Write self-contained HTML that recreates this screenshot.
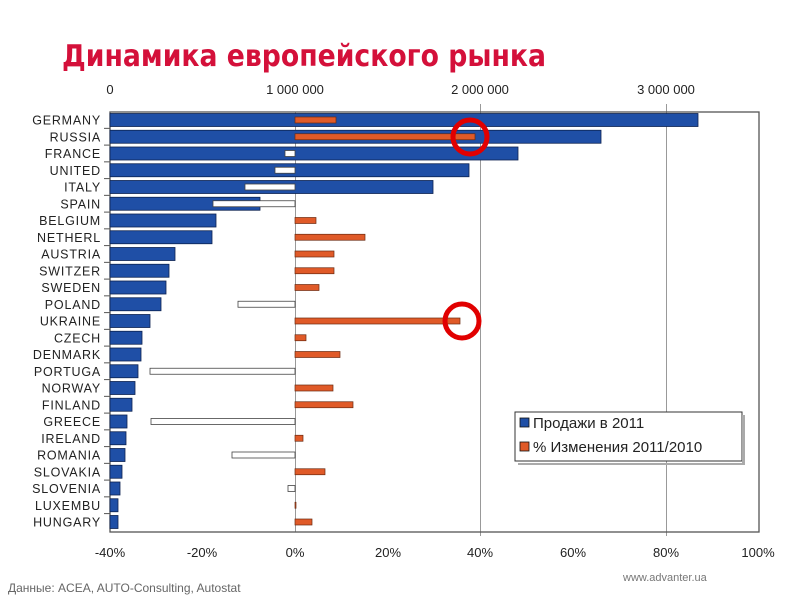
<!DOCTYPE html>
<html><head><meta charset="utf-8"><style>
html,body{margin:0;padding:0;background:#fff;}
svg{display:block;font-family:"Liberation Sans","DejaVu Sans",sans-serif;}
</style></head><body>
<svg id="s" width="800" height="600" viewBox="0 0 800 600" xmlns="http://www.w3.org/2000/svg">
<text x="62" y="66" font-family="DejaVu Sans, sans-serif" font-weight="bold" font-size="30" fill="#d4103a" textLength="484" lengthAdjust="spacingAndGlyphs">Динамика европейского рынка</text>
<g font-size="13" fill="#222" text-anchor="middle">
<text x="110" y="94">0</text><text x="295" y="94">1 000 000</text><text x="480" y="94">2 000 000</text><text x="666" y="94">3 000 000</text>
<text x="110" y="557">-40%</text><text x="202" y="557">-20%</text><text x="295" y="557">0%</text><text x="388" y="557">20%</text><text x="480" y="557">40%</text><text x="573" y="557">60%</text><text x="666" y="557">80%</text><text x="758" y="557">100%</text>
</g>
<g stroke="#999" stroke-width="1">
<line x1="295.5" y1="112" x2="295.5" y2="532"/><line x1="480.5" y1="104" x2="480.5" y2="536"/><line x1="666.5" y1="104" x2="666.5" y2="536"/>
</g>
<g stroke="#555" stroke-width="1.3" fill="none">
<rect x="110" y="112" width="649" height="420"/>
</g>
<g id="bars"></g>
<g font-size="12.5" fill="#222" text-anchor="end" id="labs" letter-spacing="0.8"></g>
<rect x="515" y="412" width="227" height="49" fill="#fff" stroke="#333" stroke-width="1"/>
<rect x="518" y="463" width="227" height="2" fill="#aaa"/><rect x="742" y="415" width="3" height="48" fill="#aaa"/>
<rect x="520" y="418" width="9" height="9" fill="#1f4fa6" stroke="#111" stroke-width="0.8"/>
<rect x="520" y="442" width="9" height="9" fill="#e05a28" stroke="#111" stroke-width="0.8"/>
<text x="533" y="428" font-size="15" fill="#222">Продажи в 2011</text>
<text x="533" y="452" font-size="15" fill="#222">% Изменения 2011/2010</text>
<circle cx="470" cy="137" r="17" fill="none" stroke="#e10000" stroke-width="5"/>
<circle cx="462" cy="321" r="17" fill="none" stroke="#e10000" stroke-width="5"/>
<text x="8" y="592" font-size="12" fill="#666">Данные: ACEA, AUTO-Consulting, Autostat</text>
<text x="623" y="581" font-size="11" fill="#777">www.advanter.ua</text>
</svg>
<script>
var d=[["GERMANY",698,336],["RUSSIA",601,475],["FRANCE",518,285],["UNITED",469,275],["ITALY",433,245],["SPAIN",260,213],["BELGIUM",216,316],["NETHERL",212,365],["AUSTRIA",175,334],["SWITZER",169,334],["SWEDEN",166,319],["POLAND",161,238],["UKRAINE",150,460],["CZECH",142,306],["DENMARK",141,340],["PORTUGA",138,150],["NORWAY",135,333],["FINLAND",132,353],["GREECE",127,151],["IRELAND",126,303],["ROMANIA",125,232],["SLOVAKIA",122,325],["SLOVENIA",120,288],["LUXEMBU",118,296],["HUNGARY",118,312]];
var b="",l="";
d.forEach(function(r,i){var c=120+i*16.75;
b+='<rect x="110" y="'+(c-6.5)+'" width="'+(r[1]-110)+'" height="13" fill="#1f4fa6" stroke="#0d2250" stroke-width="0.8"/>';
var p=r[2];
if(p>=295)b+='<rect x="295" y="'+(c-3)+'" width="'+Math.max(1,p-295)+'" height="6" fill="#e05a28" stroke="#6b2a10" stroke-width="0.7"/>';
else b+='<rect x="'+p+'" y="'+(c-3)+'" width="'+(295-p)+'" height="6" fill="#fff" stroke="#444" stroke-width="0.8"/>';
l+='<text x="101" y="'+(c+4.5)+'">'+r[0]+'</text>';
if(i>0)l+='<line x1="104" y1="'+(c-8.4)+'" x2="110" y2="'+(c-8.4)+'" stroke="#555"/>';
});
document.getElementById("bars").innerHTML=b;document.getElementById("labs").innerHTML=l;
</script>
</body></html>
